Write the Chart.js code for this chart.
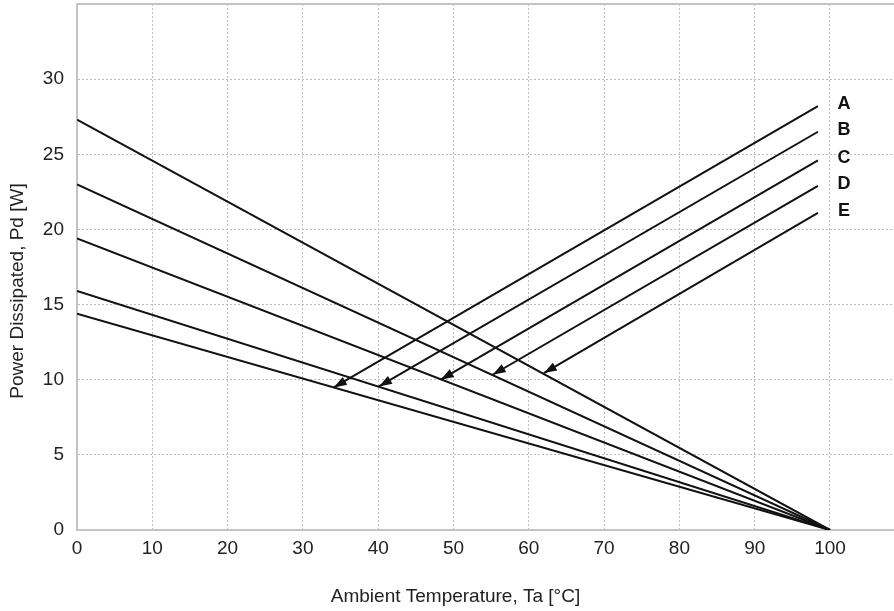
<!DOCTYPE html>
<html>
<head>
<meta charset="utf-8">
<script src="https://cdn.jsdelivr.net/npm/chart.js@4.4.0/dist/chart.umd.min.js"></script>
<style>
  html, body { margin: 0; padding: 0; background: #fff; }
  #wrap { width: 894px; height: 611px; }
</style>
</head>
<body>
<div id="wrap"><canvas id="Grafica1"></canvas></div>
<script>
// derating lines: start power at Ta = 0, all go to 0 W at Ta = 100
const deratingX = [0, 100];
const deratingStart = [27.3, 23.0, 19.4, 15.9, 14.4];

// curves A..E, arrow tip sits on a derating line
const curveLabels = ["A", "B", "C", "D", "E"];
const arrowTipX = [34.1, 40.1, 48.3, 55.2, 62.0];
const arrowTipY = [9.49, 9.55, 10.0, 10.33, 10.44];
const curveEndX = 98.4;
const curveEndY = [28.2, 26.5, 24.6, 22.9, 21.1];

const xTicks = [0, 10, 20, 30, 40, 50, 60, 70, 80, 90, 100];
const yTicks = [0, 5, 10, 15, 20, 25, 30];

const xTitle = "Ambient Temperature, Ta [°C]";
const yTitle = "Power Dissipated, Pd [W]";

const xMax = 108.5;
const yMax = 35;

const fontFam = "'Liberation Sans', Arial, sans-serif";

let datasets = [];
deratingStart.forEach(function (p) {
	datasets.push({
		data: [{ x: deratingX[0], y: p }, { x: deratingX[1], y: 0 }],
		borderColor: "#111",
		borderWidth: 2,
		pointRadius: 0,
		isArrow: false,
	});
});
curveLabels.forEach(function (lbl, i) {
	datasets.push({
		label: lbl,
		data: [{ x: arrowTipX[i], y: arrowTipY[i] }, { x: curveEndX, y: curveEndY[i] }],
		borderColor: "#111",
		borderWidth: 2,
		pointRadius: 0,
		isArrow: true,
	});
});

// arrow heads, curve letters, axis titles and the top frame line
const extras = {
	id: "extras",
	afterDatasetsDraw(chart) {
		const c = chart.ctx;
		const area = chart.chartArea;
		c.save();
		c.strokeStyle = "#c4c4c4";
		c.lineWidth = 2;
		c.beginPath();
		c.moveTo(area.left, area.top);
		c.lineTo(area.right, area.top);
		c.stroke();

		chart.data.datasets.forEach(function (ds, i) {
			if (!ds.isArrow) return;
			const pts = chart.getDatasetMeta(i).data;
			const tip = pts[0], tail = pts[1];
			const a = Math.atan2(tip.y - tail.y, tip.x - tail.x);
			const len = 13, half = 4.5;
			const bx = tip.x - len * Math.cos(a), by = tip.y - len * Math.sin(a);
			c.fillStyle = "#111";
			c.beginPath();
			c.moveTo(tip.x, tip.y);
			c.lineTo(bx + half * Math.sin(a), by - half * Math.cos(a));
			c.lineTo(bx - half * Math.sin(a), by + half * Math.cos(a));
			c.closePath();
			c.fill();

			c.font = "bold 18px " + fontFam;
			c.textAlign = "center";
			c.textBaseline = "middle";
			c.fillText(ds.label, tail.x + 26, tail.y - 2);
		});

		// axis titles (placed a bit off-centre like the original)
		c.fillStyle = "#222";
		c.font = "19px " + fontFam;
		c.textAlign = "center";
		c.textBaseline = "middle";
		c.fillText(xTitle, (area.left + area.right) / 2 - 30, chart.height - 14);
		c.translate(18, (area.top + area.bottom) / 2 + 24);
		c.rotate(-Math.PI / 2);
		c.fillText(yTitle, 0, 0);
		c.restore();
	},
};

const tickFont = { size: 19, family: fontFam };

new Chart(document.getElementById("Grafica1").getContext("2d"), {
	type: "line",
	data: { datasets: datasets },
	plugins: [extras],
	options: {
		responsive: true,
		maintainAspectRatio: false,
		animation: false,
		layout: { padding: { top: 4, right: 0, left: 0, bottom: 0 } },
		plugins: {
			legend: { display: false },
			tooltip: { enabled: false },
		},
		scales: {
			x: {
				type: "linear",
				min: 0,
				max: xMax,
				afterBuildTicks: function (s) {
					s.ticks = xTicks.map(function (v) { return { value: v }; });
				},
				afterFit: function (s) {
					s.height = 81;
					s.paddingLeft = 0;
					s.paddingRight = 0;
				},
				grid: { color: "#bdbdbd", lineWidth: 1, drawTicks: false },
				border: { color: "#c4c4c4", width: 2, dash: [2, 2] },
				ticks: {
					color: "#222",
					padding: 7,
					maxRotation: 0,
					autoSkip: false,
					font: tickFont,
				},
			},
			y: {
				min: 0,
				max: yMax,
				afterBuildTicks: function (s) {
					s.ticks = yTicks.map(function (v) { return { value: v }; });
				},
				afterFit: function (s) {
					s.width = 77;
					s.paddingTop = 0;
					s.paddingBottom = 0;
				},
				grid: { color: "#bdbdbd", lineWidth: 1, drawTicks: false },
				border: { color: "#c4c4c4", width: 2, dash: [2, 2] },
				ticks: {
					color: "#222",
					padding: 13,
					font: tickFont,
				},
			},
		},
	},
});
</script>
</body>
</html>
